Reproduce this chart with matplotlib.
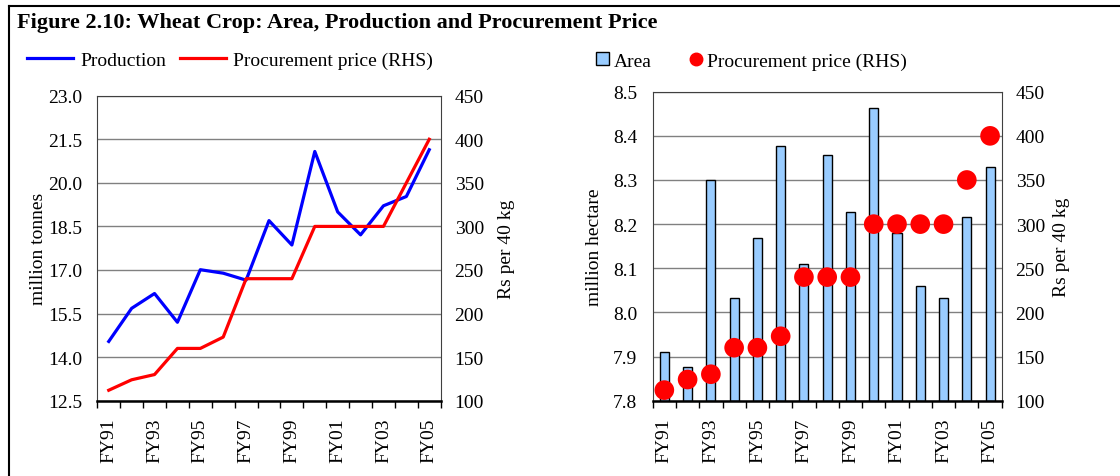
import matplotlib
matplotlib.use("Agg")
import matplotlib.pyplot as plt
from matplotlib.lines import Line2D
from matplotlib.patches import Patch
import numpy as np

plt.rcParams['font.family'] = ['Liberation Serif', 'DejaVu Serif']

years = ["FY91", "FY92", "FY93", "FY94", "FY95", "FY96", "FY97", "FY98",
         "FY99", "FY00", "FY01", "FY02", "FY03", "FY04", "FY05"]
production = [14.54, 15.68, 16.19, 15.20, 17.01, 16.89, 16.65, 18.70,
              17.86, 21.08, 19.00, 18.21, 19.21, 19.53, 21.14]
price = [112, 124, 130, 160, 160, 173, 240, 240, 240, 300, 300, 300, 300, 350, 400]
area = [7.91, 7.876, 8.30, 8.033, 8.168, 8.377, 8.11, 8.356, 8.228, 8.462,
        8.18, 8.059, 8.033, 8.216, 8.33]

W, H = 1120, 477
fig = plt.figure(figsize=(W / 100, H / 100), dpi=100)

def px_axes(x0, y0, x1, y1):
    return fig.add_axes([x0 / W, 1 - y1 / H, (x1 - x0) / W, (y1 - y0) / H])

FS = 14
x = np.arange(len(years))
grid_c = '#808080'

def style_axes(ax):
    ax.set_xlim(-0.5, len(years) - 0.5)
    ax.set_xticks(x[::2])
    ax.set_xticklabels(years[::2], rotation=90, fontsize=FS)
    ax.set_xticks(np.arange(-0.5, len(years), 1.0), minor=True)
    ax.tick_params(axis='x', which='major', length=0, pad=12)
    ax.tick_params(axis='x', which='minor', length=5, width=1, direction='out', color='black')
    ax.tick_params(axis='y', length=0, labelsize=FS, pad=11)
    ax.yaxis.grid(True, color=grid_c, linewidth=1)
    ax.set_axisbelow(True)
    for s in ['top', 'right', 'left']:
        ax.spines[s].set_color('#404040')
        ax.spines[s].set_linewidth(0.8)
    ax.spines['bottom'].set_linewidth(1.8)
    ax.spines['bottom'].set_color('black')

# ---- left chart
ax1 = px_axes(97.3, 96.7, 440.7, 401.7)
style_axes(ax1)
ax1.set_ylim(12.5, 23.0)
ax1.set_yticks(np.arange(12.5, 23.01, 1.5))
ax1.set_yticklabels([f"{v:.1f}" for v in np.arange(12.5, 23.01, 1.5)])
ax1.plot(x, production, color='#0000FF', linewidth=2.3, zorder=3)
ax1.set_ylabel("million tonnes", fontsize=FS, labelpad=1)
ax1b = ax1.twinx()
ax1b.set_ylim(100, 450)
ax1b.set_yticks(np.arange(100, 451, 50))
ax1b.tick_params(axis='y', length=0, labelsize=FS, pad=10)
ax1b.plot(x, price, color='#FF0000', linewidth=2.3, zorder=3)
ax1b.set_ylabel("Rs per 40 kg", fontsize=FS, labelpad=10)
for s in ax1b.spines.values():
    s.set_visible(False)

# ---- right chart
ax2 = px_axes(652.7, 92.7, 1001.7, 401.7)
style_axes(ax2)
ax2.set_ylim(7.8, 8.5)
ax2.set_yticks(np.arange(7.8, 8.501, 0.1))
ax2.set_yticklabels([f"{v:.1f}" for v in np.arange(7.8, 8.501, 0.1)])
ax2.bar(x, np.array(area) - 7.8, bottom=7.8, width=0.39, color='#99CCFF',
        edgecolor='black', linewidth=1, zorder=2)
ax2.set_ylabel("million hectare", fontsize=FS, labelpad=7)
ax2b = ax2.twinx()
ax2b.set_ylim(100, 450)
ax2b.set_yticks(np.arange(100, 451, 50))
ax2b.tick_params(axis='y', length=0, labelsize=FS, pad=10)
ax2b.scatter(x, price, s=200, color='#FF0000', edgecolor='none', zorder=4, clip_on=False)
ax2b.set_ylabel("Rs per 40 kg", fontsize=FS, labelpad=6)
for s in ax2b.spines.values():
    s.set_visible(False)

# ---- title & frame
fig.text(17 / W, 1 - 23 / H, "Figure 2.10: Wheat Crop: Area, Production and Procurement Price",
         fontsize=16, fontweight='bold', ha='left', va='center')
fig.add_artist(Line2D([8.5 / W, 8.5 / W], [0, 1 - 7 / H], transform=fig.transFigure,
                      color='black', linewidth=1.5))
fig.add_artist(Line2D([8.5 / W, 1], [1 - 7 / H, 1 - 7 / H], transform=fig.transFigure,
                      color='black', linewidth=1.5))

# ---- legends
h1 = [Line2D([], [], color='#0000FF', linewidth=2.3),
      Line2D([], [], color='#FF0000', linewidth=2.3)]
fig.legend(h1, ["Production", "Procurement price (RHS)"], loc='center left',
           bbox_to_anchor=(27 / W, 1 - 61 / H), ncol=2, frameon=False, fontsize=FS,
           borderpad=0, borderaxespad=0, handlelength=2.37, handletextpad=0.36,
           columnspacing=0.72)
h2 = [Patch(facecolor='#99CCFF', edgecolor='black', linewidth=1),
      Line2D([], [], linestyle='none', marker='o', markersize=9, color='#FF0000')]
fig.legend(h2, ["Area", "Procurement price (RHS)"], loc='center left',
           bbox_to_anchor=(596 / W, 1 - 62 / H), ncol=2, frameon=False, fontsize=FS,
           borderpad=0, borderaxespad=0, handlelength=0.67, handleheight=0.67,
           handletextpad=0.27, columnspacing=1.9)

fig.savefig("out.png", dpi=100)
